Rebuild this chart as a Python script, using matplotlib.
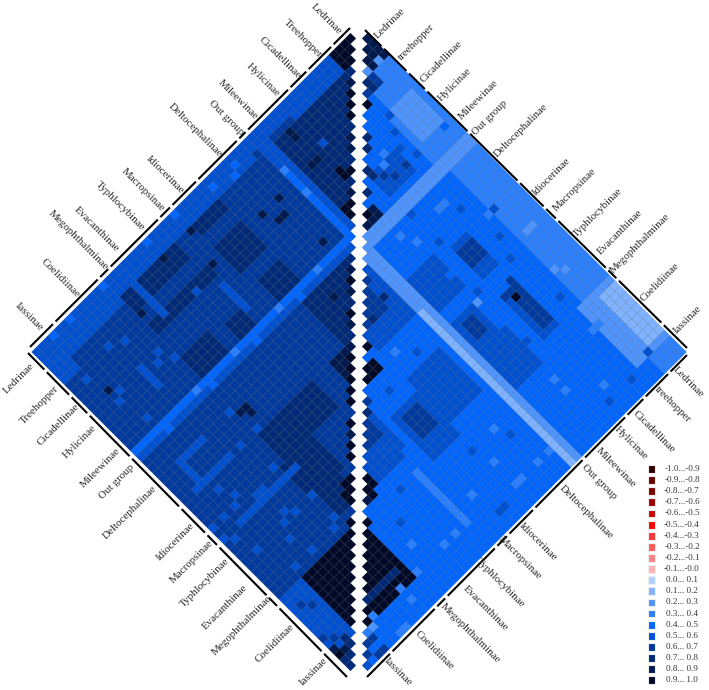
import numpy as np
import matplotlib
matplotlib.use('Agg')
import matplotlib.pyplot as plt
from matplotlib.collections import PolyCollection
from matplotlib.colors import ListedColormap, BoundaryNorm

plt.rcParams['font.family'] = ['Liberation Serif', 'DejaVu Serif']

n = 58
taxa = ['Ledrinae', 'Treehopper', 'Cicadellinae', 'Hylicinae', 'Mileewinae', 'Out group', 'Deltocephalinae',
        'Idiocerinae', 'Macropsinae', 'Typhlocybinae', 'Evacanthinae', 'Megophthalminae', 'Coelidiinae', 'Iassinae']
taxa_right = ['Ledrinae', 'treehopper'] + taxa[2:]

legend_labels = ['-1.0...-0.9', '-0.9...-0.8', '-0.8...-0.7', '-0.7...-0.6', '-0.6...-0.5', '-0.5...-0.4',
                 '-0.4...-0.3', '-0.3...-0.2', '-0.2...-0.1', '-0.1...-0.0', '0.0... 0.1', '0.1... 0.2',
                 '0.2... 0.3', '0.3... 0.4', '0.4... 0.5', '0.5... 0.6', '0.6... 0.7', '0.7... 0.8',
                 '0.8... 0.9', '0.9... 1.0']
colores = ['#330000', '#660000', '#800000', '#a00000', '#cc0000', '#ff0000', '#ff3333', '#ff5c5c', '#ff8080', '#ffb3b3',
           '#b3d1ff', '#80b3ff', '#4d94ff', '#2b80ff', '#0066ff', '#0050d2', '#003a9e', '#002a78', '#001a50', '#000a28']

# Values are bins: level k means k/10 ... (k+1)/10
# (i0, i1, j0, j1, level), painted in this order, inclusive
left_base = 6
left_blocks = [
    (0, 3, 3, 12, 5), (0, 1, 12, 20, 5), (3, 17, 3, 17, 7), (0, 2, 20, 42, 5), (0, 3, 42, 57, 5), (0, 2, 0, 3, 9),
    (0, 5, 55, 57, 5), (7, 11, 27, 31, 7), (14, 17, 27, 30, 7), (15, 17, 35, 37, 7), (3, 5, 35, 44, 7),
    (8, 9, 34, 44, 7), (3, 4, 27, 31, 7), (14, 17, 40, 44, 7), (11, 15, 34, 34, 5), (3, 8, 42, 42, 5),
    (11, 14, 49, 49, 5), (20, 27, 20, 28, 7), (22, 26, 22, 26, 7), (28, 32, 35, 44, 7), (28, 31, 28, 31, 8),
    (33, 38, 40, 45, 7), (38, 42, 41, 44, 7), (27, 27, 49, 55, 5), (23, 23, 50, 54, 5), (24, 27, 54, 54, 5),
    (34, 34, 44, 54, 5), (45, 53, 45, 53, 9), (45, 57, 54, 57, 5), (38, 44, 55, 57, 6),
    (0, 19, 17, 17, 5), (0, 5, 18, 18, 5), (6, 19, 18, 18, 4), (18, 18, 18, 57, 4), (19, 19, 19, 57, 5),
]
left_dots = [
    (4, 4, 8), (5, 5, 9), (6, 6, 9), (7, 7, 9), (9, 9, 8), (10, 10, 8), (12, 12, 9), (12, 13, 9), (11, 13, 9),
    (15, 15, 9), (16, 16, 9), (15, 16, 9), (14, 14, 8), (3, 14, 8), (4, 14, 8), (7, 12, 5), (8, 15, 8), (8, 14, 8),
    (16, 21, 8), (8, 24, 8), (10, 22, 8), (10, 23, 8), (8, 21, 8), (3, 32, 8), (3, 37, 8), (6, 44, 8), (8, 33, 8),
    (9, 37, 5), (11, 46, 5), (1, 22, 4), (2, 23, 4), (1, 26, 4), (0, 32, 4), (0, 37, 4), (0, 45, 4), (0, 51, 4),
    (0, 54, 4), (7, 55, 5), (7, 48, 5), (6, 50, 5), (11, 53, 5), (12, 54, 5), (16, 53, 5), (10, 54, 8), (13, 45, 5),
    (12, 47, 5), (23, 45, 5), (24, 43, 8), (25, 43, 8), (24, 44, 8), (27, 44, 5), (27, 47, 5), (33, 50, 5), (29, 53, 5),
    (32, 53, 5), (31, 52, 5), (32, 55, 5), (32, 57, 5), (34, 57, 5), (35, 56, 5), (37, 49, 5), (38, 55, 5), (40, 51, 5),
    (43, 53, 5), (38, 50, 5), (43, 50, 5), (43, 46, 5), (42, 45, 5), (38, 45, 5), (38, 48, 5), (33, 49, 5), (32, 46, 5),
    (29, 29, 9), (30, 30, 9), (31, 31, 9), (32, 32, 9), (33, 33, 9), (35, 35, 9), (36, 36, 8), (37, 37, 9), (38, 38, 9),
    (40, 40, 9), (41, 41, 9), (42, 42, 9), (40, 41, 9), (41, 42, 9), (44, 44, 9), (21, 21, 8), (22, 22, 9), (23, 23, 8),
    (25, 25, 9), (26, 26, 8), (22, 25, 8), (55, 57, 9), (54, 57, 8), (55, 56, 8), (55, 55, 7), (54, 55, 7), (56, 57, 7),
    (56, 56, 7), (57, 57, 7), (52, 57, 6), (53, 56, 6), (48, 55, 6), (47, 56, 6),
    (18, 24, 3), (18, 31, 3), (18, 39, 3), (18, 46, 3), (19, 28, 4), (19, 36, 4), (19, 44, 4), (19, 52, 4), (6, 18, 3),
    (10, 18, 3),
]

right_base = 4
right_blocks = [
    (0, 4, 3, 8, 3), (0, 5, 9, 17, 3), (1, 4, 9, 14, 2), (3, 5, 3, 5, 6), (8, 12, 13, 16, 5), (0, 4, 20, 34, 3),
    (0, 4, 35, 43, 3), (0, 5, 44, 54, 2), (0, 2, 45, 53, 1), (0, 3, 55, 57, 3), (0, 2, 0, 3, 8),
    (9, 11, 27, 32, 5), (9, 11, 28, 30, 6), (14, 18, 26, 31, 5), (9, 11, 36, 43, 5), (9, 10, 36, 42, 6), (15, 18, 34, 38, 5),
    (16, 17, 35, 37, 6), (28, 32, 37, 44, 5), (29, 31, 38, 41, 6), (22, 27, 35, 42, 5), (14, 18, 39, 45, 5),
    (21, 27, 21, 29, 5), (23, 26, 22, 26, 6), (34, 38, 34, 40, 5), (35, 37, 35, 38, 6), (35, 39, 38, 41, 5),
    (45, 53, 45, 53, 9), (46, 51, 51, 51, 7), (0, 19, 18, 19, 2), (19, 20, 19, 57, 2), (20, 20, 30, 57, 1),
    (35, 35, 44, 53, 3),
]
right_dots = [
    (1, 3, 2), (3, 3, 2), (4, 4, 7), (4, 5, 7), (6, 6, 9), (9, 9, 7), (10, 10, 7), (12, 12, 7), (12, 13, 7), (11, 14, 6),
    (10, 15, 6), (8, 15, 6), (16, 16, 9), (15, 16, 8), (15, 17, 8), (16, 17, 8), (17, 17, 8), (14, 14, 7), (22, 25, 7),
    (25, 26, 7), (22, 22, 6), (24, 24, 6), (1, 15, 4), (10, 37, 9), (9, 36, 6), (9, 35, 6), (11, 36, 6), (14, 34, 2),
    (5, 27, 3), (4, 27, 5), (3, 32, 2), (2, 32, 2), (3, 39, 2), (4, 38, 2), (6, 47, 3), (5, 47, 3), (14, 48, 3), (14, 50, 3),
    (10, 53, 3), (3, 54, 5), (7, 55, 5), (11, 55, 5), (18, 44, 5), (27, 54, 3), (26, 54, 3), (27, 50, 3), (32, 51, 3),
    (31, 55, 5), (30, 55, 5), (23, 54, 3), (21, 54, 3), (37, 53, 3), (39, 53, 3), (44, 53, 3), (30, 30, 9), (29, 30, 9),
    (29, 31, 9), (30, 31, 9), (31, 31, 9), (28, 28, 9), (41, 41, 9), (40, 41, 9), (41, 42, 9), (40, 40, 9), (42, 42, 8),
    (44, 44, 9), (33, 33, 6), (34, 34, 7), (52, 53, 3), (47, 53, 3), (47, 55, 3), (53, 54, 2), (54, 54, 3), (55, 55, 6),
    (54, 55, 6), (55, 57, 6), (54, 57, 6), (56, 56, 6), (57, 57, 5), (51, 57, 3), (50, 57, 3), (56, 57, 4),
    (9, 22, 3), (8, 22, 3), (14, 23, 3), (15, 21, 3), (14, 29, 4), (5, 9, 5), (6, 11, 5), (7, 13, 5), (6, 15, 5), (9, 12, 3),
    (10, 13, 3), (12, 20, 5), (7, 24, 5), (12, 25, 5), (6, 30, 5), (7, 33, 5), (13, 33, 5), (6, 41, 5), (13, 42, 5),
    (24, 33, 5), (26, 31, 3), (30, 34, 5), (38, 44, 5), (41, 47, 5), (42, 50, 3), (28, 47, 5), (24, 47, 3), (23, 49, 5),
]

# breaks between taxa along each edge, in cell units
cortes = [0, 3.2, 7.7, 11, 18.7, 27.7, 32.4, 34.6, 43.6, 45.5, 53.6, 58]
cortes_ul = [0, 3.2, 7.7, 11, 18.7, 20.3, 27.7, 32.4, 34.6, 43.6, 45.5, 53.6, 58]

etiq_ul = [(326, 19), (303, 39), (280, 58), (263, 80), (238, 100), (226, 118), (195, 130), (165, 175), (143, 190),
           (120, 206), (96, 229), (78, 240), (60, 278), (29, 317)]
etiq_ll = [(19, 378), (39, 405), (58, 425), (80, 442), (100, 468), (117, 482), (130, 512), (175, 542), (192, 562),
           (205, 583), (225, 607), (242, 625), (275, 643), (313, 672)]
etiq_ur = [(390, 23), (416, 42), (441, 62), (455, 85), (478, 100), (490, 118), (521, 130), (551, 177), (575, 190),
           (598, 213), (620, 232), (640, 243), (660, 282), (687, 320)]
etiq_lr = [(688, 382), (673, 405), (654, 432), (631, 443), (616, 468), (599, 482), (586, 512), (538, 542), (520, 558),
           (500, 583), (485, 608), (470, 633), (434, 650), (398, 672)]


def armar(base, blocks, dots):
    m = np.full((n, n), float(base))
    for i0, i1, j0, j1, lv in blocks:
        m[i0:i1 + 1, j0:j1 + 1] = lv
    for i, j, lv in dots:
        m[i, j] = lv
    return (m + 0.5) / 10


def triangulo(m, x0, signo):
    # one diamond per cell with i <= j
    polys, vals = [], []
    for i in range(n):
        for j in range(i, n):
            cx = x0 + signo * (j - i) * paso
            cy = 33 + paso + (i + j) * paso
            polys.append([(cx, cy - paso), (cx + paso, cy), (cx, cy + paso), (cx - paso, cy)])
            vals.append(m[i, j])
    pc = PolyCollection(polys, array=np.array(vals), cmap=cmap, norm=norm, edgecolors=(0, 0, 0, 0.18), linewidths=0.4)
    ax.add_collection(pc)


fig = plt.figure(figsize=(7.09, 6.90), dpi=100)
ax = fig.add_axes([0, 0, 1, 1])
ax.set_xlim(0, 709)
ax.set_ylim(690, 0)
ax.axis('off')

cmap = ListedColormap(colores)
norm = BoundaryNorm(np.arange(-1, 1.01, 0.1), cmap.N)
paso = 5.5
triangulo(armar(left_base, left_blocks, left_dots), 350.5, -1)
triangulo(armar(right_base, right_blocks, right_dots), 367.5, 1)

# black edge lines
bordes = [((350, 28), (30, 347), cortes_ul), ((28, 353), (347, 677), cortes), ((365, 30), (687, 348), cortes),
          ((687, 355), (367, 677), cortes)]
for a, b, cs in bordes:
    a, b = np.array(a), np.array(b)
    for c0, c1 in zip(cs[:-1], cs[1:]):
        t0 = c0 / 58 + (0.004 if c0 > 0 else 0)
        t1 = c1 / 58 - (0.004 if c1 < 58 else 0)
        ax.plot([a[0] + t0 * (b[0] - a[0]), a[0] + t1 * (b[0] - a[0])],
                [a[1] + t0 * (b[1] - a[1]), a[1] + t1 * (b[1] - a[1])], color='black', lw=1.5, solid_capstyle='butt')

# taxon labels
for nombres, pos, rot in [(taxa, etiq_ul, -45), (taxa, etiq_ll, 45), (taxa_right, etiq_ur, 45), (taxa_right, etiq_lr, -45)]:
    for t, (x, y) in zip(nombres, pos):
        ax.text(x, y, t, rotation=rot, rotation_mode='anchor', ha='center', va='center', fontsize=7.9, color='#2a2a2a')

# legend
ley_y = 469 + 11.12 * np.arange(20)
ax.scatter(np.full(20, 651.5), ley_y, marker='s', s=32, c=colores, edgecolors='#eeeeee', linewidths=0.8)
for y, t in zip(ley_y, legend_labels):
    ax.text(682, y, t, ha='center', va='center', fontsize=6.6, color='#333333')

plt.savefig('out.png', dpi=100)
